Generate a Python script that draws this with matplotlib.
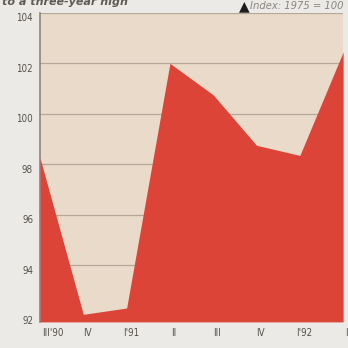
import matplotlib
matplotlib.use("Agg")
import matplotlib.pyplot as plt
from matplotlib.transforms import offset_copy

# Quarterly index values, 1975 = 100
quarters = ["III'90", "IV", "I'91", "II", "III", "IV", "I'92", "II"]
index_values = [98.25, 92.05, 92.3, 102.0, 100.75, 98.75, 98.35, 102.45]
y_ticks = [92, 94, 96, 98, 100, 102, 104]

fig = plt.figure(figsize=(3.48, 3.48), dpi=100)
fig.patch.set_facecolor("#ebeae6")
ax = fig.add_axes([0.115, 0.075, 0.871, 0.888])
ax.set_facecolor("#e9dac9")

x = list(range(len(quarters)))
ax.fill_between(x, 91.75, index_values, color="#dc4437", lw=0, zorder=3)

ax.set_xlim(0, len(quarters) - 1)
ax.set_ylim(91.75, 104)
ax.set_yticks(y_ticks)
ax.set_yticklabels([])
ax.set_xticks(x)
ax.set_xticklabels([])
ax.tick_params(length=0)
for v in y_ticks:
    ax.axhline(v, color="#b5a898", lw=0.9, zorder=2)

for s in ["top", "right", "bottom"]:
    ax.spines[s].set_visible(False)
ax.spines["left"].set_color("#8a8580")
ax.spines["left"].set_linewidth(1.2)

lab_kw = dict(fontsize=7, color="#55504b", fontstretch="condensed")
ytr = offset_copy(ax.get_yaxis_transform(), fig=fig, x=-5, y=-4, units="points")
for v in y_ticks:
    ax.text(0, v, str(v), transform=ytr, ha="right", va="center", **lab_kw)

xtr = offset_copy(ax.get_xaxis_transform(), fig=fig, x=3, y=-8, units="points")
for i, q in enumerate(quarters):
    ha = "left" if i == 0 else "center"
    xi = i - 0.05 if i == 0 else i
    ax.text(xi, 0, q, transform=xtr, ha=ha, va="center", **lab_kw)

fig.text(0.005, 0.995, "to a three-year high", ha="left", va="center",
         fontsize=8, color="#5f5a55", fontweight="bold", style="italic")
fig.text(0.702, 0.982, "\u25b2", ha="center", va="center", fontsize=10, color="#1e1e1e")
fig.text(0.986, 0.982, "Index: 1975 = 100", ha="right", va="center",
         fontsize=8, color="#8a8580", style="italic", fontstretch="condensed")

fig.savefig("out.png", dpi=100, facecolor=fig.get_facecolor())
